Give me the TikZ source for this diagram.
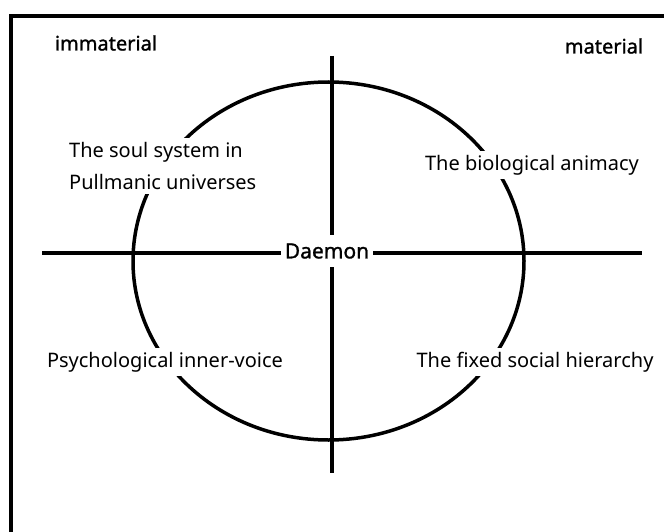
\documentclass[tikz,border=0pt]{standalone}
\usepackage{fontspec}
\setmainfont{Noto Sans}
\newfontfamily\polefont[FakeBold=1.2]{Noto Sans}
\usetikzlibrary{positioning}
\tikzset{
  axis/.style={line width=4pt, draw=black},
  ring/.style={line width=3.5pt, draw=black},
  frame/.style={line width=4pt, draw=black},
  lbl/.style={font=\fontsize{20}{32}\selectfont, text=black, align=left,
              fill=white, inner sep=4pt},
  pole/.style={font=\polefont\fontsize{20}{24}\selectfont, text=black, inner sep=2pt}
}
\begin{document}
\begin{tikzpicture}[x=1pt,y=-1pt]
  \useasboundingbox[fill=white] (0,0) rectangle (664,532);
  % frame, cut at right and bottom
  \draw[frame] (11,532) -- (11,16) -- (664,16);
  % the ring and the two axes
  \draw[ring] (328.5,261) ellipse [x radius=195.5, y radius=179];
  \coordinate (W) at (42,253);
  \coordinate (E) at (642,253);
  \coordinate (N) at (332,56);
  \coordinate (S) at (332,473);
  \draw[axis] (W) -- (E);
  \draw[axis] (N) -- (S);
  \node[lbl, font=\polefont\fontsize{21}{26}\selectfont, inner xsep=4pt, inner ysep=8pt] (daemon) at (327,251) {Daemon};
  % poles
  \node[pole] (immat) at (106,43) {immaterial};
  \node[pole] (mat) at (604,46) {material};
  % quadrants
  \node[lbl, anchor=west] (soul) at (65,166) {The soul system in\\Pullmanic universes};
  \node[lbl] (bio) at (532,165) {The biological animacy};
  \node[lbl] (psy) at (165,362) {Psychological inner-voice};
  \node[lbl] (hier) at (535,362) {The fixed social hierarchy};
\end{tikzpicture}
\end{document}
